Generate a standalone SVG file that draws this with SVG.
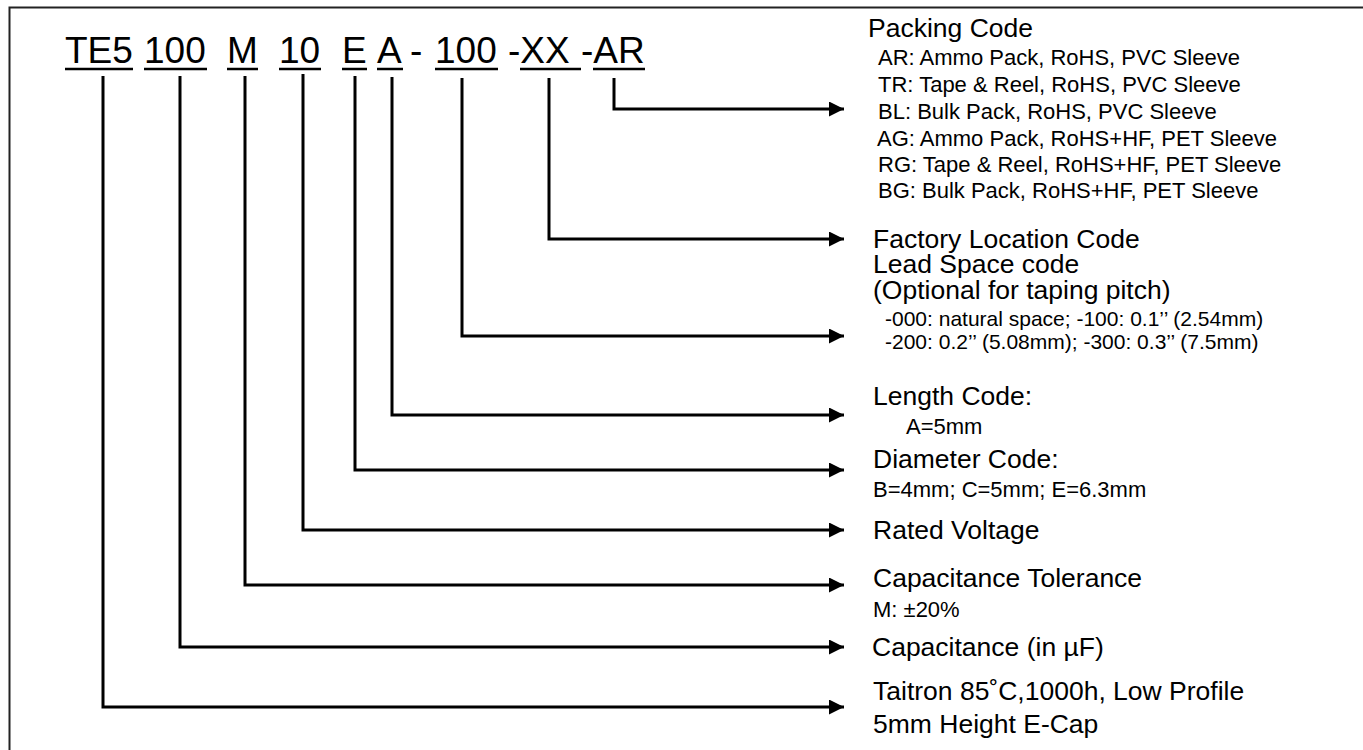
<svg xmlns="http://www.w3.org/2000/svg" width="1363" height="750" viewBox="0 0 1363 750">
<style>
text{font-family:"Liberation Sans",Arial,sans-serif;fill:#000}
.t{font-size:37px}
.l{font-size:26.5px}
.s{font-size:22px}
.s2{font-size:21px}
.u{stroke:#000;stroke-width:2.5}
.c{fill:none;stroke:#000;stroke-width:3}
</style>
<defs>
<marker id="ah" markerUnits="userSpaceOnUse" markerWidth="16" markerHeight="16" refX="15" refY="7.5" orient="auto">
<path d="M0,0 L15,7.5 L0,15 Z" fill="#000"/>
</marker>
</defs>
<rect width="1363" height="750" fill="#fff"/>
<path d="M9.5,750 V7.5 H1363" fill="none" stroke="#222" stroke-width="2"/>
<g id="code">
<text class="t" x="65" y="63">TE5</text><line class="u" x1="65" y1="69" x2="133" y2="69"/>
<text class="t" x="144" y="63">100</text><line class="u" x1="144" y1="69" x2="207" y2="69"/>
<text class="t" x="227" y="63">M</text><line class="u" x1="227" y1="69" x2="258" y2="69"/>
<text class="t" x="279" y="63">10</text><line class="u" x1="279" y1="69" x2="321" y2="69"/>
<text class="t" x="342" y="63">E</text><line class="u" x1="342" y1="69" x2="367" y2="69"/>
<text class="t" x="377" y="63">A</text><line class="u" x1="377" y1="69" x2="403" y2="69"/>
<text class="t" x="410" y="63">-</text>
<text class="t" x="435" y="63">100</text><line class="u" x1="435" y1="69" x2="498" y2="69"/>
<text class="t" x="508" y="63">-XX</text><line class="u" x1="520" y1="69" x2="581" y2="69"/>
<text class="t" x="581" y="63">-AR</text><line class="u" x1="593" y1="69" x2="645" y2="69"/>
</g>
<g id="connectors">
<path class="c" d="M103,76 V707 H844" marker-end="url(#ah)"/>
<path class="c" d="M180,76 V647 H844" marker-end="url(#ah)"/>
<path class="c" d="M245,76 V585 H844" marker-end="url(#ah)"/>
<path class="c" d="M303,74 V530 H844" marker-end="url(#ah)"/>
<path class="c" d="M355,76 V470 H844" marker-end="url(#ah)"/>
<path class="c" d="M392,77 V415 H844" marker-end="url(#ah)"/>
<path class="c" d="M462,78 V336 H844" marker-end="url(#ah)"/>
<path class="c" d="M549,78 V239 H844" marker-end="url(#ah)"/>
<path class="c" d="M614,78 V109 H844" marker-end="url(#ah)"/>
</g>
<g id="packing">
<text class="l" x="868" y="37">Packing Code</text>
<text class="s" x="878" y="65">AR: Ammo Pack, RoHS, PVC Sleeve</text>
<text class="s" x="878" y="92">TR: Tape &amp; Reel, RoHS, PVC Sleeve</text>
<text class="s" x="878" y="119">BL: Bulk Pack, RoHS, PVC Sleeve</text>
<text class="s" x="877" y="146">AG: Ammo Pack, RoHS+HF, PET Sleeve</text>
<text class="s" x="878" y="172">RG: Tape &amp; Reel, RoHS+HF, PET Sleeve</text>
<text class="s" x="878" y="198">BG: Bulk Pack, RoHS+HF, PET Sleeve</text>
</g>
<g id="factory">
<text class="l" x="873" y="248">Factory Location Code</text>
</g>
<g id="leadspace">
<text class="l" x="873" y="273">Lead Space code</text>
<text class="l" x="873" y="299">(Optional for taping pitch)</text>
<text class="s2" x="885" y="326">-000: natural space; -100: 0.1’’ (2.54mm)</text>
<text class="s2" x="885" y="349">-200: 0.2’’ (5.08mm); -300: 0.3’’ (7.5mm)</text>
</g>
<g id="length">
<text class="l" x="873" y="405">Length Code:</text>
<text class="s" x="906" y="434">A=5mm</text>
</g>
<g id="diameter">
<text class="l" x="873" y="468">Diameter Code:</text>
<text class="s" x="873" y="497">B=4mm; C=5mm; E=6.3mm</text>
</g>
<g id="voltage">
<text class="l" x="873" y="539">Rated Voltage</text>
</g>
<g id="tolerance">
<text class="l" x="873" y="587">Capacitance Tolerance</text>
<text class="s" x="873" y="617">M: ±20%</text>
</g>
<g id="capacitance">
<text class="l" x="872" y="656">Capacitance (in µF)</text>
</g>
<g id="series">
<text class="l" x="873" y="700">Taitron 85˚C,1000h, Low Profile</text>
<text class="l" x="873" y="733">5mm Height E-Cap</text>
</g>
</svg>
